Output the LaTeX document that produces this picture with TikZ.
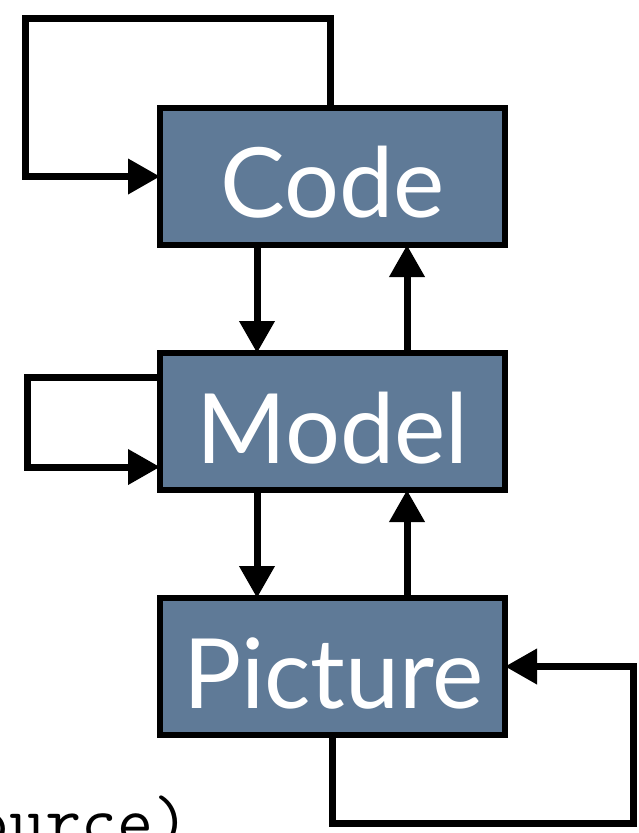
\documentclass[tikz,border=0pt]{standalone}
\usepackage{fontspec}
\setmainfont{Lato}
\usetikzlibrary{arrows.meta}
\definecolor{boxblue}{RGB}{95,122,151}
\tikzset{
  box/.style={draw=black, line width=6pt, fill=boxblue, minimum width=345pt,
    minimum height=137pt, inner sep=0pt, outer sep=0pt},
  boxtext/.style={text=white, font=\fontsize{97}{97}\selectfont, inner sep=0pt, anchor=base},
  conn/.style={line width=7pt, line join=miter, -{Triangle[length=32pt,width=34pt]}}
}
\begin{document}
\begin{tikzpicture}[x=1pt,y=-1pt]
\useasboundingbox (0,0) rectangle (638,833);
\clip (0,0) rectangle (638,833);
% boxes
\node[box] (Code) at (332.5,176.5) {};
\node[box] (Model) at (332.5,421.5) {};
\node[box] (Picture) at (332.5,666.5) {};
% labels
\node[boxtext] (CodeT) at (332.5,217) {Code};
\node[boxtext] (ModelT) at (332.5,463) {Model};
\node[boxtext] (PictureT) at (333.5,708) {Picture};
% vertical arrows
\draw[conn] ([xshift=-75.5pt]Code.south) -- ([xshift=-75.5pt]Model.north);
\draw[conn] ([xshift=74.5pt]Model.north) -- ([xshift=74.5pt]Code.south);
\draw[conn] ([xshift=-75.5pt]Model.south) -- ([xshift=-75.5pt]Picture.north);
\draw[conn] ([xshift=74.5pt]Picture.north) -- ([xshift=74.5pt]Model.south);
% self loops
\coordinate (c1) at (330,18);
\coordinate (c2) at (25,18);
\draw[conn] (Code.north -| c1) -- (c1) -- (c2) |- (Code.west);
\coordinate (m1) at (27,377);
\coordinate (m2) at (27,467);
\draw[conn] (m1 -| Model.west) -- (m1) -- (m2) -- (m2 -| Model.west);
\coordinate (p1) at (332,823);
\coordinate (p2) at (633,823);
\draw[conn] (p1 |- Picture.south) -- (p1) -- (p2) |- (Picture.east);
% cut-off caption
\node[inner sep=0pt, anchor=base west, font=\ttfamily\fontsize{70}{70}\selectfont] (src) at (-27,844) {ource)};
\end{tikzpicture}
\end{document}
